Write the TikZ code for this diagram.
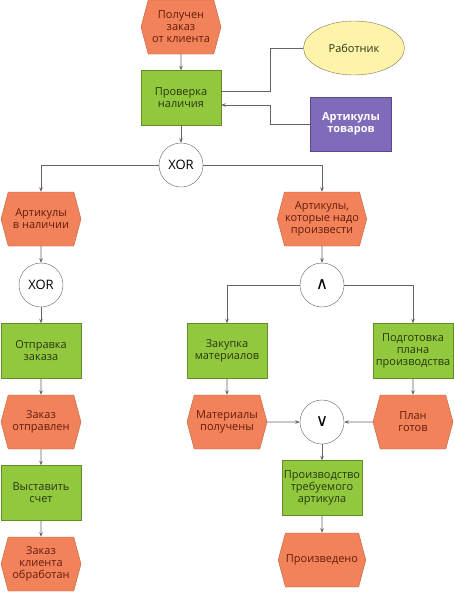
\documentclass[tikz,border=0pt]{standalone}
\usepackage{fontspec}
\setmainfont{Open Sans}
\newfontfamily\symfont{DejaVu Sans}
\usetikzlibrary{shapes.symbols,shapes.geometric,arrows.meta}

\definecolor{evfill}{RGB}{242,130,90}
\definecolor{evline}{RGB}{190,95,60}
\definecolor{evtext}{RGB}{100,28,12}
\definecolor{fnfill}{RGB}{146,200,62}
\definecolor{fnline}{RGB}{98,140,40}
\definecolor{fntext}{RGB}{40,55,15}
\definecolor{orgfill}{RGB}{255,243,170}
\definecolor{orgline}{RGB}{130,120,80}
\definecolor{infill}{RGB}{128,106,186}
\definecolor{inline}{RGB}{90,72,140}
\definecolor{wire}{RGB}{100,100,100}

\begin{document}
\begin{tikzpicture}[x=1pt,y=-1pt,font=\fontsize{11}{12}\selectfont,
    >={Stealth[length=4.5pt,width=3.5pt]}]
    \tikzstyle{event}=[shape=signal,signal to=east and west,signal pointer angle=150,
        draw=evline,fill=evfill,text=evtext,minimum width=80pt,minimum height=54pt,
        inner sep=0.5pt,align=center]
    \tikzstyle{func}=[rectangle,draw=fnline,fill=fnfill,text=fntext,minimum width=80pt,
        minimum height=55pt,inner sep=0.5pt,align=center]
    \tikzstyle{conn}=[circle,draw=wire,fill=white,minimum size=44pt,inner sep=0pt,
        font=\fontsize{13}{14}\selectfont]
    \tikzstyle{wires}=[draw=wire,line width=0.8pt]
    \useasboundingbox (0,0) rectangle (454,600);

    % events
    \node[event] (E-start) at (181,27) {Получен\\заказ\\от клиента};
    \node[event] (E-stock) at (41,219) {Артикулы\\в наличии};
    \node[event] (E-make) at (322,219) {Артикулы,\\которые надо\\произвести};
    \node[event] (E-sent) at (41,422) {Заказ\\отправлен};
    \node[event] (E-mat) at (227,422) {Материалы\\получены};
    \node[event] (E-plan) at (413,422) {План\\готов};
    \node[event] (E-done) at (41,564) {Заказ\\клиента\\обработан};
    \node[event] (E-made) at (322,560) {Произведено};

    % functions
    \node[func] (F-check) at (181,98) {Проверка\\наличия};
    \node[func] (F-ship) at (41,351) {Отправка\\заказа};
    \node[func] (F-buy) at (227,351) {Закупка\\материалов};
    \node[func] (F-plan) at (413,351) {Подготовка\\плана\\производства};
    \node[func] (F-bill) at (41,493) {Выставить\\счет};
    \node[func] (F-prod) at (322,488) {Производство\\требуемого\\артикула};

    % org unit and information object
    \node[ellipse,draw=orgline,fill=orgfill,text=fntext,minimum width=101pt,
        minimum height=54pt] (worker) at (354,48) {Работник};
    \node[rectangle,draw=inline,fill=infill,text=white,font=\fontsize{11}{12}\selectfont\bfseries,
        minimum width=81pt,minimum height=54pt,align=center] (items) at (351,124) {Артикулы\\товаров};

    % connectors
    \node[conn] (C-xor1) at (181,165) {XOR};
    \node[conn] (C-xor2) at (41,285) {XOR};
    \node[conn] (C-and) at (322,285) {\symfont\fontsize{17}{18}\selectfont ∧};
    \node[conn] (C-or) at (322,422) {\symfont\fontsize{17}{18}\selectfont ∨};

    \draw[wires] (worker.west) -| ([xshift=49pt,yshift=7pt]F-check.east) -- ([yshift=7pt]F-check.east);
    \draw[wires,->] (items.west) -| ([xshift=49pt,yshift=-7pt]F-check.east) -- ([yshift=-7pt]F-check.east);

    \foreach \from/\to in {E-start/F-check, F-check/C-xor1, E-stock/C-xor2, C-xor2/F-ship,
        F-ship/E-sent, E-sent/F-bill, F-bill/E-done, E-make/C-and, F-buy/E-mat,
        F-plan/E-plan, E-mat/C-or, E-plan/C-or, C-or/F-prod, F-prod/E-made}
        \draw[wires,->] (\from) -- (\to);
    \foreach \from/\to in {C-xor1/E-stock, C-xor1/E-make, C-and/F-buy, C-and/F-plan}
        \draw[wires,->] (\from) -| (\to);
\end{tikzpicture}
\end{document}
